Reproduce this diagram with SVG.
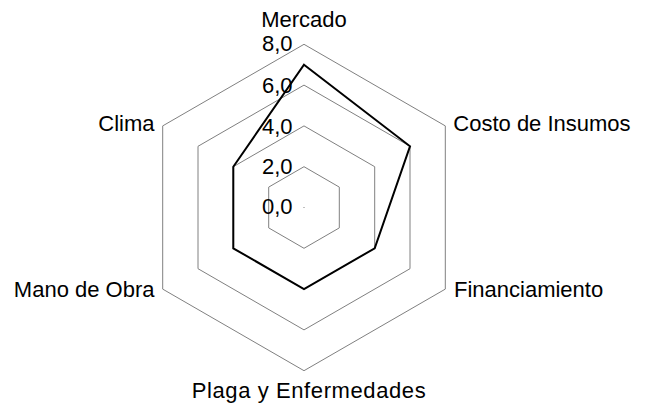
<svg xmlns="http://www.w3.org/2000/svg" width="646" height="404" viewBox="0 0 646 404">
<style>
.grid{fill:none;stroke:#808080;stroke-width:1}
.data{fill:none;stroke:#000;stroke-width:2;stroke-linejoin:miter}
text{font-family:"Liberation Sans",Arial,sans-serif;font-size:22px;fill:#000}
.tick{text-anchor:end}
</style>
<rect width="646" height="404" fill="#fff"/>
<g id="grid">
<polygon class="grid" points="304,44.3 445.3,125.9 445.3,289.1 304,370.7 162.7,289.1 162.7,125.9"/>
<polygon class="grid" points="304,85.1 410,146.3 410,268.7 304,329.9 198,268.7 198,146.3"/>
<polygon class="grid" points="304,125.9 374.7,166.7 374.7,248.3 304,289.1 233.3,248.3 233.3,166.7"/>
<polygon class="grid" points="304,166.7 339.3,187.1 339.3,227.9 304,248.3 268.7,227.9 268.7,187.1"/>
<rect x="303.5" y="207" width="1" height="1" fill="#808080"/>
</g>
<g id="series">
<polygon class="data" points="304,64.7 410,146.3 374.7,248.3 304,289.1 233.3,248.3 233.3,166.7"/>
</g>
<g id="ticks">
<text class="tick" x="292.5" y="51">8,0</text>
<text class="tick" x="292.5" y="93">6,0</text>
<text class="tick" x="292.5" y="133.5">4,0</text>
<text class="tick" x="292.5" y="174.3">2,0</text>
<text class="tick" x="292.5" y="213.5">0,0</text>
</g>
<g id="labels">
<text x="304" y="26.7" text-anchor="middle">Mercado</text>
<text x="453.3" y="131">Costo de Insumos</text>
<text x="454" y="296.7">Financiamiento</text>
<text x="309" y="398.3" text-anchor="middle" style="letter-spacing:0.6px">Plaga y Enfermedades</text>
<text x="154.5" y="296.7" text-anchor="end">Mano de Obra</text>
<text x="154.5" y="130.7" text-anchor="end">Clima</text>
</g>
</svg>
